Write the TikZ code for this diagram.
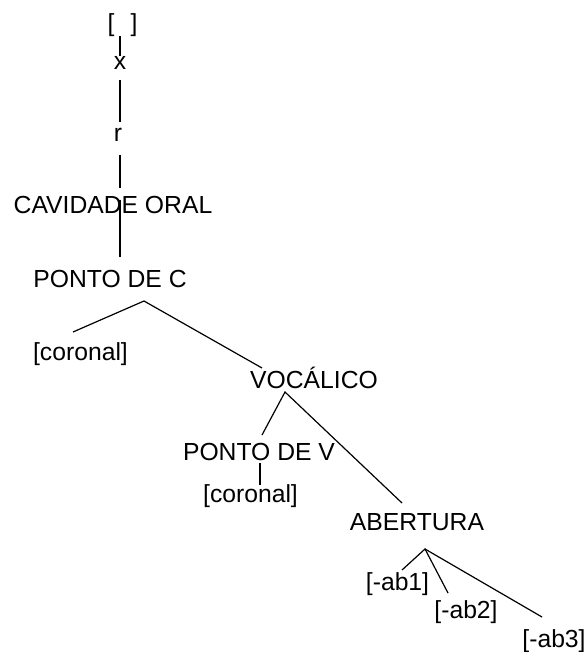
\documentclass[tikz,border=0pt]{standalone}
\usepackage{fontspec}
\setmainfont{Liberation Sans}
\begin{document}
\begin{tikzpicture}[x=1pt,y=-1pt,
  lbl/.style={anchor=base,inner sep=0pt,font=\fontsize{24.7}{29}\selectfont},
  edge/.style={line width=1.2pt,line cap=butt}]
\useasboundingbox (0,0) rectangle (587,652);
% labels
\node[lbl] (br)   at (122.5,32)  {[\hspace{0.65em}]};
\node[lbl] (x)    at (120,70)  {x};
\node[lbl] (r)    at (118,142) {r};
\node[lbl] (cav)  at (113,213) {CAVIDADE ORAL};
\node[lbl] (pc)   at (110,287) {PONTO DE C};
\node[lbl] (cor1) at (80.5,360) {[coronal]};
\node[lbl] (voc)  at (314,388) {VOCÁLICO};
\node[lbl] (pv)   at (259,460) {PONTO DE V};
\node[lbl] (cor2) at (250.5,502) {[coronal]};
\node[lbl] (ab)   at (417,530) {ABERTURA};
\node[lbl] (ab1)  at (397.5,590) {[-ab1]};
\node[lbl] (ab2)  at (466,618) {[-ab2]};
\node[lbl] (ab3)  at (554,647) {[-ab3]};
% connector end points
\coordinate (br-s)  at (120,36);
\coordinate (x-n)   at (120,56);
\coordinate (x-s)   at (120,80);
\coordinate (r-n)   at (120,122);
\coordinate (r-s)   at (120,155);
\coordinate (cav-n) at (120,188);
\coordinate (cav-s) at (120,200);
\coordinate (pc-n)  at (120,257);
\coordinate (pc-s)  at (144,301);
\coordinate (cor1-n) at (73,332);
\coordinate (voc-n) at (262,368);
\coordinate (voc-s) at (285,392);
\coordinate (pv-n)  at (262,435);
\coordinate (ab-n)  at (402,503);
\coordinate (pv-s)  at (260,463);
\coordinate (cor2-n) at (260,485);
\coordinate (ab-s)  at (425,549);
\coordinate (ab1-n) at (402,570);
\coordinate (ab2-n) at (448,593);
\coordinate (ab3-n) at (542,617);
% connectors
\draw[edge] (br-s) -- (x-n);
\draw[edge] (x-s) -- (r-n);
\draw[edge] (r-s) -- (cav-n);
\draw[edge] (cav-s) -- (pc-n);
\draw[edge] (cor1-n) -- (pc-s) -- (voc-n);
\draw[edge] (pv-n) -- (voc-s) -- (ab-n);
\draw[edge] (pv-s) -- (cor2-n);
\draw[edge] (ab1-n) -- (ab-s) -- (ab2-n);
\draw[edge] (ab-s) -- (ab3-n);
\end{tikzpicture}
\end{document}
